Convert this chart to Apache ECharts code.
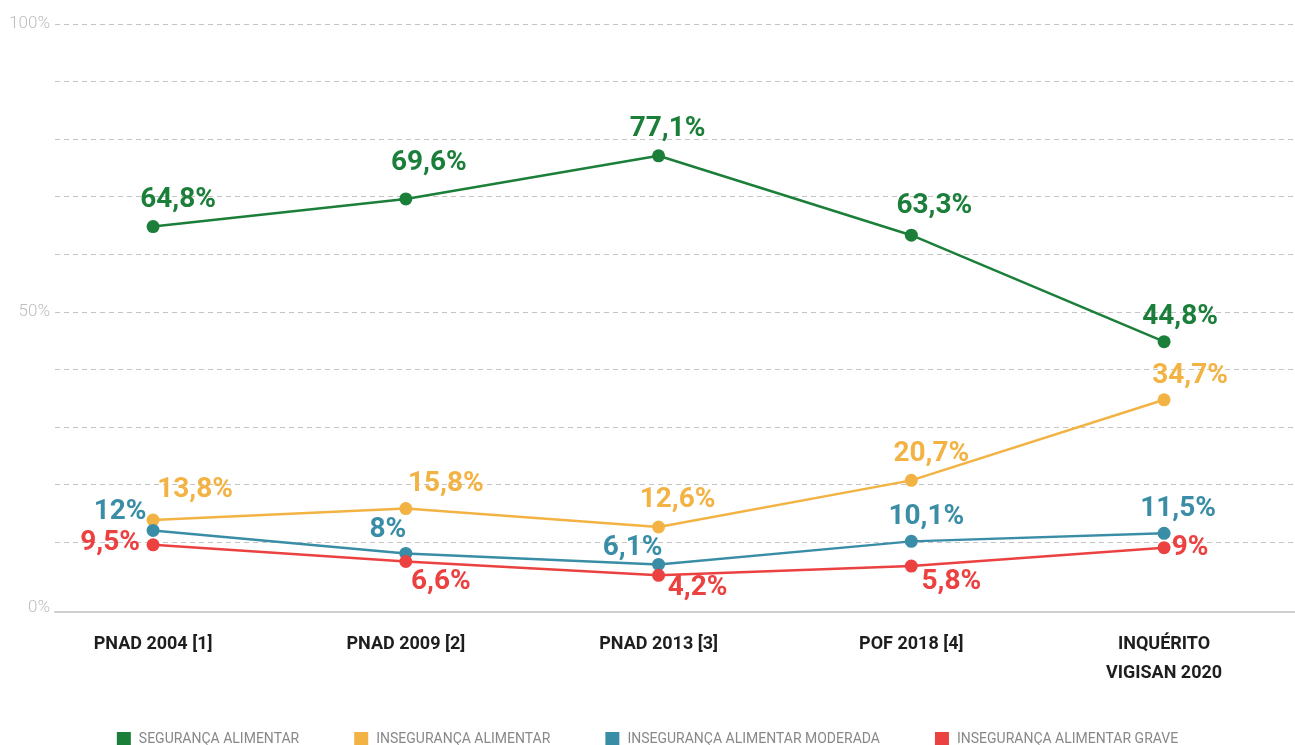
<!DOCTYPE html>
<html>
<head>
<meta charset="utf-8">
<script src="https://cdn.jsdelivr.net/npm/echarts@6/dist/echarts.min.js"></script>
<style>
  html, body { margin: 0; padding: 0; background: #fff; }
  #graph { width: 1295px; height: 745px; }
</style>
</head>
<body>
<div id="graph"></div>
<script>
const categories = ['PNAD 2004 [1]', 'PNAD 2009 [2]', 'PNAD 2013 [3]', 'POF 2018 [4]', 'INQUÉRITO\nVIGISAN 2020']
const seguranca = [64.8, 69.6, 77.1, 63.3, 44.8]
const inseguranca = [13.8, 15.8, 12.6, 20.7, 34.7]
const moderada = [12, 8, 6.1, 10.1, 11.5]
const grave = [9.5, 6.6, 4.2, 5.8, 9]
const yTickLabels = [0, 50, 100]

// label offsets from the point centre, one per point
const offsets = {
  seguranca: [[25, -27], [23, -36], [9, -27], [23, -29], [16, -25]],
  inseguranca: [[42, -30], [40, -25], [19, -27], [20, -26], [26, -24]],
  moderada: [[-33, -18], [-18, -23], [-26, -16], [15, -24], [14, -24]],
  grave: [[-43, -2], [35, 20], [39, 13], [40, 16], [26, 0]]
}

const fmt = (v) => String(v).replace('.', ',') + '%'

const makeSeries = (name, values, color, offs) => ({
  name: name,
  type: 'line',
  data: values.map((v, i) => ({
    value: [i, v],
    label: { offset: offs[i] }
  })),
  symbol: 'circle',
  symbolSize: 13,
  lineStyle: { color: color, width: 2.5 },
  itemStyle: { color: color },
  label: {
    show: true,
    position: 'inside',
    color: color,
    fontFamily: 'Roboto',
    fontWeight: 'bold',
    fontSize: 28,
    formatter: (p) => fmt(p.value[1])
  },
  emphasis: { disabled: true },
  z: 3
})

var myChart = echarts.init(document.getElementById('graph'))
myChart.setOption({
  animation: false,
  grid: { left: 55, right: 0, top: 24, bottom: 145.5, containLabel: false },
  legend: {
    top: 727,
    left: 'center',
    icon: 'rect',
    itemWidth: 14,
    itemHeight: 14,
    itemGap: 55,
    textStyle: { color: '#888', fontSize: 14, fontFamily: 'Roboto', padding: [0, 0, 0, 3] },
    data: ['SEGURANÇA ALIMENTAR', 'INSEGURANÇA ALIMENTAR', 'INSEGURANÇA ALIMENTAR MODERADA', 'INSEGURANÇA ALIMENTAR GRAVE']
  },
  xAxis: {
    type: 'value',
    min: -0.388,
    max: 4.518,
    offset: 12.5,
    axisLine: { show: true, onZero: false, lineStyle: { color: '#cfcfcf', width: 2 } },
    axisTick: { show: false },
    splitLine: { show: false },
    axisLabel: {
      customValues: [0, 1, 2, 3, 4],
      formatter: (v) => categories[Math.round(v)],
      color: '#1e1e1e',
      fontFamily: 'Roboto',
      fontWeight: 'bold',
      fontSize: 18,
      lineHeight: 29,
      margin: 18
    }
  },
  yAxis: {
    type: 'value',
    min: 0,
    max: 100,
    interval: 10,
    axisLine: { show: false },
    axisTick: { show: false },
    splitLine: {
      show: true,
      showMinLine: false,
      lineStyle: { color: '#c4c4c4', type: [5, 4], width: 1 }
    },
    axisLabel: {
      customValues: yTickLabels,
      formatter: (v) => (v === 0 ? '{z|0%}' : v + '%'),
      color: '#bdbdbd',
      fontFamily: 'Roboto',
      fontWeight: 300,
      fontSize: 17,
      margin: 5,
      rich: {
        z: { color: '#bdbdbd', fontFamily: 'Roboto', fontWeight: 300, fontSize: 17, padding: [16, 0, 0, 0] }
      }
    }
  },
  series: [
    makeSeries('SEGURANÇA ALIMENTAR', seguranca, '#1b7f3a', offsets.seguranca),
    makeSeries('INSEGURANÇA ALIMENTAR', inseguranca, '#f3b344', offsets.inseguranca),
    makeSeries('INSEGURANÇA ALIMENTAR MODERADA', moderada, '#3a8da6', offsets.moderada),
    makeSeries('INSEGURANÇA ALIMENTAR GRAVE', grave, '#ec4141', offsets.grave)
  ]
})
</script>
</body>
</html>
